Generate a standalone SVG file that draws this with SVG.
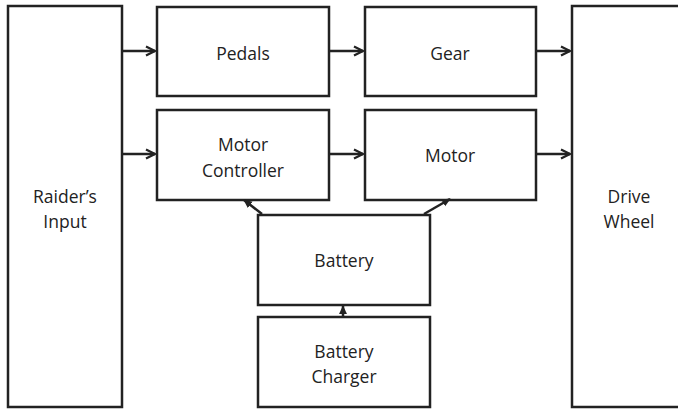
<svg xmlns="http://www.w3.org/2000/svg" width="678" height="409" viewBox="0 0 678 409">
<style>
.box{fill:#fff;stroke:#222;stroke-width:2.5}
.t{font-family:"Open Sans","Noto Sans",sans-serif;font-size:17.5px;fill:#222;text-anchor:middle}
.c{stroke:#222;stroke-width:2.5;fill:none}
</style>
<defs>
<marker id="ah" viewBox="0 0 10 10" refX="9" refY="5" markerWidth="4.5" markerHeight="4.5" orient="auto" markerUnits="strokeWidth">
<path d="M1,1 L9,5 L1,9" fill="none" stroke="#222" stroke-width="2"/>
</marker>
<marker id="sh" viewBox="0 0 10 10" refX="9" refY="5" markerWidth="3.5" markerHeight="3.5" orient="auto" markerUnits="strokeWidth">
<path d="M0,0.5 L10,5 L0,9.5 Z" fill="#222"/>
</marker>
</defs>
<g id="raider"><rect class="box" x="8" y="6" width="114" height="401"/><text class="t" x="65" y="203">Raider’s</text><text class="t" x="65" y="228">Input</text></g>
<g id="pedals"><rect class="box" x="157" y="7" width="172" height="89"/><text class="t" x="243" y="60">Pedals</text></g>
<g id="gear"><rect class="box" x="365" y="7" width="171" height="89"/><text class="t" x="450" y="60">Gear</text></g>
<g id="motorcontroller"><rect class="box" x="157" y="110" width="172" height="90"/><text class="t" x="243" y="151">Motor</text><text class="t" x="243" y="177">Controller</text></g>
<g id="motor"><rect class="box" x="365" y="110" width="171" height="90"/><text class="t" x="450" y="162">Motor</text></g>
<g id="drivewheel"><path class="box" d="M682,6 H572 V407 H682"/><text class="t" x="629" y="203">Drive</text><text class="t" x="629" y="228">Wheel</text></g>
<g id="battery"><rect class="box" x="258" y="215" width="172" height="90"/><text class="t" x="344" y="267">Battery</text></g>
<g id="charger"><rect class="box" x="258" y="317" width="172" height="90"/><text class="t" x="344" y="358">Battery</text><text class="t" x="344" y="383">Charger</text></g>
<g id="connectors">
<line class="c" x1="122" y1="51" x2="155" y2="51" marker-end="url(#ah)"/>
<line class="c" x1="122" y1="154" x2="155" y2="154" marker-end="url(#ah)"/>
<line class="c" x1="329" y1="51" x2="363" y2="51" marker-end="url(#ah)"/>
<line class="c" x1="329" y1="154" x2="363" y2="154" marker-end="url(#ah)"/>
<line class="c" x1="536" y1="51" x2="570" y2="51" marker-end="url(#ah)"/>
<line class="c" x1="536" y1="154" x2="570" y2="154" marker-end="url(#ah)"/>
<line class="c" x1="262" y1="214" x2="244" y2="200" marker-end="url(#sh)"/>
<line class="c" x1="424" y1="214" x2="450" y2="199" marker-end="url(#sh)"/>
<line class="c" x1="343" y1="316" x2="343" y2="306" stroke-width="1.5" marker-end="url(#sh)"/>
</g>
</svg>
